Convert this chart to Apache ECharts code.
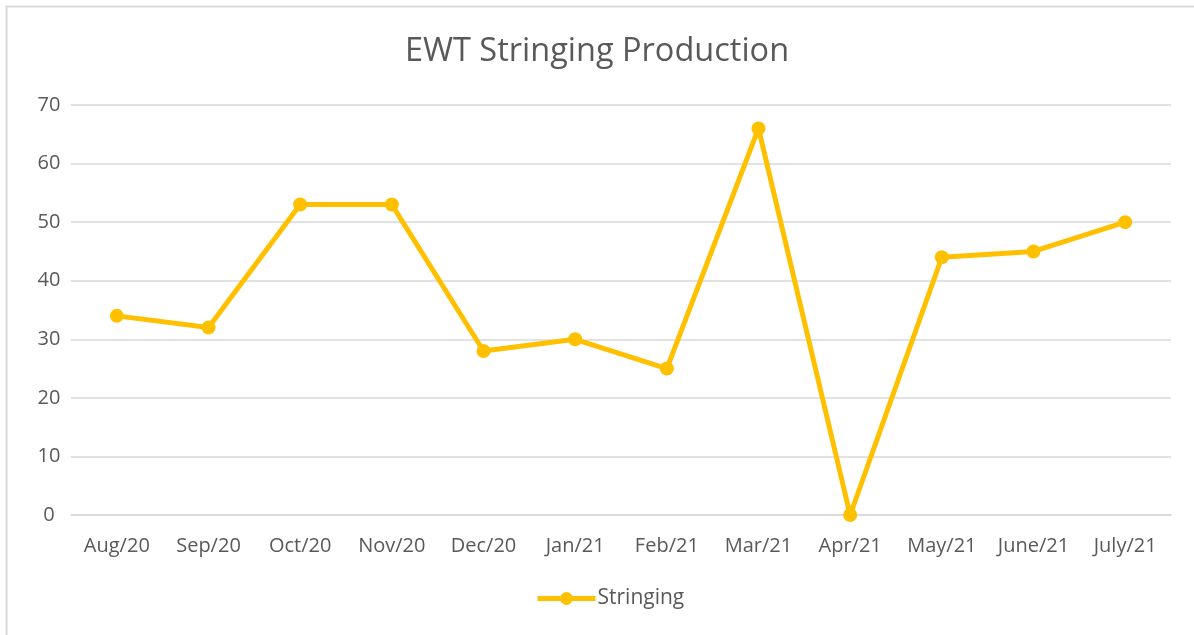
<!DOCTYPE html>
<html>
<head>
<meta charset="utf-8">
<script src="https://cdn.jsdelivr.net/npm/echarts@6/dist/echarts.min.js"></script>
<style>
  html, body { margin: 0; padding: 0; background: #fff; }
  #chart { width: 1194px; height: 635px; }
</style>
</head>
<body>
<div id="chart"></div>
<script>
// Monthly stringing output
const months = ['Aug/20', 'Sep/20', 'Oct/20', 'Nov/20', 'Dec/20', 'Jan/21', 'Feb/21', 'Mar/21', 'Apr/21', 'May/21', 'June/21', 'July/21'];
const stringing = [34, 32, 53, 53, 28, 30, 25, 66, 0, 44, 45, 50];
const yTicks = [0, 10, 20, 30, 40, 50, 60, 70];

const FONT = '"Open Sans", "Liberation Sans", sans-serif';
const TEXT = '#595959';
const GOLD = '#FFC000';

const chart = echarts.init(document.getElementById('chart'), null, { renderer: 'canvas' });
chart.setOption({
  animation: false,
  backgroundColor: '#fff',
  title: {
    text: 'EWT Stringing Production',
    left: 'center',
    top: 30,
    textStyle: { fontFamily: FONT, fontSize: 32.5, fontWeight: 'normal', color: TEXT }
  },
  legend: {
    bottom: 21,
    left: 530,
    itemWidth: 58,
    itemHeight: 16,
    itemGap: 4,
    lineStyle: { width: 5 },
    textStyle: { fontFamily: FONT, fontSize: 21, color: TEXT, padding: [0, 0, 0, -3] },
    data: ['Stringing']
  },
  graphic: [{
    type: 'rect',
    silent: true,
    shape: { x: 6.5, y: 6.5, width: 1300, height: 800 },
    style: { fill: 'none', stroke: '#d9d9d9', lineWidth: 2 }
  }],
  grid: { left: 71, right: 23, top: 105, bottom: 120 },
  xAxis: {
    type: 'category',
    data: months,
    boundaryGap: true,
    axisLine: { show: true, lineStyle: { color: '#d9d9d9', width: 1.5 } },
    axisTick: { show: false },
    axisLabel: { fontFamily: FONT, fontSize: 20, color: TEXT, margin: 21, interval: 0 }
  },
  yAxis: {
    type: 'value',
    min: yTicks[0],
    max: yTicks[yTicks.length - 1],
    interval: 10,
    axisLine: { show: false },
    axisTick: { show: false },
    axisLabel: { fontFamily: FONT, fontSize: 20, color: TEXT, margin: 22, align: 'center' },
    splitLine: { lineStyle: { color: '#d9d9d9', width: 1.5 } }
  },
  series: [{
    name: 'Stringing',
    type: 'line',
    data: stringing,
    symbol: 'circle',
    symbolSize: 14,
    lineStyle: { color: GOLD, width: 5 },
    itemStyle: { color: GOLD }
  }]
});
</script>
</body>
</html>
